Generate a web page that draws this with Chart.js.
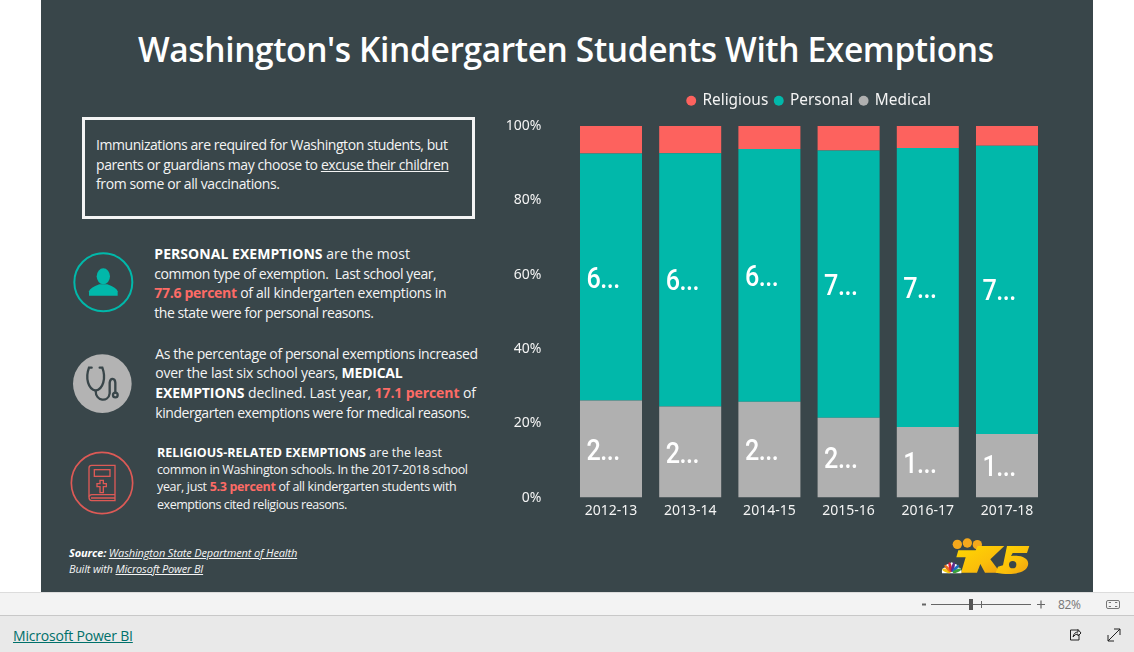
<!DOCTYPE html>
<html lang="en"><head><meta charset="utf-8"><title>Washington's Kindergarten Students With Exemptions</title>
<script src="https://cdn.jsdelivr.net/npm/chart.js@4"></script>
<style>
html,body{margin:0;padding:0;width:1134px;height:652px;overflow:hidden;background:#fff;font-family:"Open Sans",sans-serif}
#panel{position:absolute;left:41px;top:0;width:1052px;height:592px;background:#39464a}
#bar1{position:absolute;left:0;top:592px;width:1134px;height:24px;background:#f3f3f3;border-top:1px solid #dcdcdc;border-bottom:1px solid #c8c8c8;box-sizing:border-box}
#bar2{position:absolute;left:0;top:616px;width:1134px;height:36px;background:#e9e9e9}
#box{position:absolute;left:82px;top:117px;width:393px;height:102px;box-sizing:border-box;border:3px solid #f4f4f4}
canvas{position:absolute;left:500px;top:80px}
svg{position:absolute;left:0;top:0}
.l{position:absolute;white-space:nowrap;line-height:20px;height:20px;color:#f4f4f4;font-size:14px}
.l b{color:#fff;font-weight:700}.l i.r{font-style:normal;font-weight:700;color:#fd6b66}
.l u{text-underline-offset:1px}
.s{font-size:12.5px}.f{font-size:11px;font-style:italic}
#title{font-size:33.5px;font-weight:600;color:#fff;line-height:44px;height:44px}
#link{color:#00706a;font-size:14px;text-decoration:underline}
#pct{color:#777;font-size:12px}
</style></head><body>
<div id="panel"></div><div id="bar1"></div><div id="bar2"></div><div id="box"></div>

<div class="l" id="title" data-x="138" data-y="49" data-e="994">Washington's Kindergarten Students With Exemptions</div>

<div class="l" data-x="96" data-y="145" data-e="448">Immunizations are required for Washington students, but</div>
<div class="l" data-x="96" data-y="164.5" data-e="449">parents or guardians may choose to <u>excuse their children</u></div>
<div class="l" data-x="96" data-y="184" data-e="280">from some or all vaccinations.</div>

<div class="l" data-x="154.3" data-y="254" data-e="410"><b>PERSONAL EXEMPTIONS</b> are the most</div>
<div class="l" data-x="154.3" data-y="273.5" data-e="436.7">common type of exemption.&nbsp; Last school year,</div>
<div class="l" data-x="154.3" data-y="293.3" data-e="446.7"><i class="r">77.6 percent</i> of all kindergarten exemptions in</div>
<div class="l" data-x="154.3" data-y="313" data-e="374">the state were for personal reasons.</div>

<div class="l" data-x="155.3" data-y="354.3" data-e="478">As the percentage of personal exemptions increased</div>
<div class="l" data-x="155.3" data-y="373" data-e="402.7">over the last six school years, <b>MEDICAL</b></div>
<div class="l" data-x="155.3" data-y="393" data-e="476"><b>EXEMPTIONS</b> declined. Last year, <i class="r">17.1 percent</i> of</div>
<div class="l" data-x="155.3" data-y="413" data-e="470">kindergarten exemptions were for medical reasons.</div>

<div class="l s" data-x="157" data-y="452.7" data-e="442"><b>RELIGIOUS-RELATED EXEMPTIONS</b> are the least</div>
<div class="l s" data-x="157" data-y="470" data-e="468">common in Washington schools. In the 2017-2018 school</div>
<div class="l s" data-x="157" data-y="487.3" data-e="456.7">year, just <i class="r">5.3 percent</i> of all kindergarten students with</div>
<div class="l s" data-x="157" data-y="505" data-e="347.3">exemptions cited religious reasons.</div>

<div class="l f" data-x="69" data-y="552.7" data-e="297.3"><b>Source:</b> <u>Washington State Department of Health</u></div>
<div class="l f" data-x="69" data-y="569" data-e="203.3">Built with <u>Microsoft Power BI</u></div>

<div class="l" id="link" data-x="13" data-y="636" data-e="133">Microsoft Power BI</div>
<div class="l" id="pct" data-x="1058" data-y="604.5" data-e="1081">82%</div>

<svg width="1134" height="652" viewBox="0 0 1134 652">
  <!-- person -->
  <g transform="translate(60,100) scale(.3333)">
    <circle cx="130" cy="547" r="87" fill="none" stroke="#01b8aa" stroke-width="6"/>
    <ellipse cx="130" cy="529" rx="20" ry="24" fill="#01b8aa"/>
    <path d="M87 587V574Q90 563 118 553H142Q170 563 173 574V587Z" fill="#01b8aa"/>
  </g>
  <!-- stethoscope -->
  <g transform="translate(65,350) scale(.3333)">
    <circle cx="112" cy="101" r="88" fill="#b3b3b3"/>
    <g fill="none" stroke="#39464a" stroke-width="7" stroke-linecap="round">
      <path d="M80 53H72C60 85 70 118 92 122C114 118 124 85 112 53H104"/>
      <path d="M92 122C92 155 130 158 134 130V98C136 82 150 84 151 98V128"/>
      <circle cx="151" cy="135" r="7"/>
    </g>
  </g>
  <!-- book -->
  <g transform="translate(65,448) scale(.3333)" fill="none" stroke="#dd5a56" stroke-width="4">
    <circle cx="111" cy="105" r="92" stroke-width="5"/>
    <path d="M80 52H150V158H80Q72 158 72 148V60Q72 52 80 52Z"/>
    <path d="M72 146Q74 140 80 140H150M78 150H150"/>
    <rect x="88" y="65" width="47" height="20"/>
    <path d="M105 97H115V107H124V116H115V134H105V116H96V107H105Z"/>
  </g>
  <!-- station logo -->
  <g transform="translate(935,532) scale(.3333)">
    <defs><linearGradient id="gold" x1="0" y1="0" x2="1" y2="1"><stop offset="0" stop-color="#ffd800"/><stop offset=".6" stop-color="#fbbf0a"/><stop offset="1" stop-color="#f0a010"/></linearGradient></defs>
    <circle cx="67" cy="37" r="14" fill="#f5a81c"/><circle cx="97" cy="33" r="14" fill="#f5a81c"/><circle cx="127" cy="38" r="14" fill="#f5a81c"/>
    <path d="M70 55H122L128 42H208L166 82L196 122H150L136 96L126 122H78L92 76H64Z" fill="url(#gold)"/>
    <path d="M216 42H283L276 63H233L228 72C258 68 284 78 279 100C273 126 226 130 182 122L189 104L204 100Z" fill="url(#gold)"/>
    <circle cx="233" cy="98" r="11" fill="#39464a"/>
    <path d="M21 124Q18 106 33 106Q31 94 44 96Q50 86 56 96Q69 94 67 106Q82 106 79 124Z" fill="#fff"/>
    <g transform="translate(50,123)">
      <ellipse cx="0" cy="-17" rx="4.5" ry="13" transform="rotate(-68)" fill="#f2c80f"/>
      <ellipse cx="0" cy="-18" rx="4.5" ry="14" transform="rotate(-41)" fill="#e8701a"/>
      <ellipse cx="0" cy="-18" rx="4.5" ry="15" transform="rotate(-13)" fill="#d8213b"/>
      <ellipse cx="0" cy="-18" rx="4.5" ry="15" transform="rotate(13)" fill="#5b2d8e"/>
      <ellipse cx="0" cy="-18" rx="4.5" ry="14" transform="rotate(41)" fill="#1d6fc0"/>
      <ellipse cx="0" cy="-17" rx="4.5" ry="13" transform="rotate(68)" fill="#3ca23c"/>
    </g>
  </g>
  <!-- zoom controls -->
  <g stroke="#666" fill="none">
    <path d="M922 604.5H926" stroke-width="2"/>
    <path d="M931 604.5H1031"/>
    <rect x="969" y="599" width="4" height="11" fill="#555" stroke="none"/>
    <path d="M981.5 601V608"/>
    <path d="M1037 604.5H1045M1041 600.5V608.5" stroke-width="1.2"/>
    <rect x="1106.5" y="600.5" width="13" height="8" rx="1.5" stroke="#777"/>
    <path d="M1109 603V602.5H1111M1115 602.5H1117V603M1117 606V606.5H1115M1111 606.5H1109V606" stroke="#777"/>
  </g>
  <g stroke="#222" fill="none">
    <path d="M1078 630H1070.5V640H1079V635"/>
    <path d="M1073 637Q1074 632 1078 632V629.5L1081 633L1078 636V634Q1075 634 1073 637Z"/>
    <path d="M1108 641L1120 629M1114 629H1120V635M1108 635V641H1114"/>
  </g>
</svg>

<canvas id="c" width="618" height="456"></canvas>
<script>
const categories = ["2012-13","2013-14","2014-15","2015-16","2016-17","2017-18"];
const medical   = [26.1,24.5,25.8,21.5,19.0,17.1];
const personal  = [66.5,68.2,68.0,71.9,75.1,77.6];
const religious = [7.4,7.3,6.2,6.6,5.9,5.3];
const seriesNames = ["Medical","Personal","Religious"];
const seriesColors = ["#b0b0b0","#01b8aa","#fd625e"];

// fit text lines to their measured extents
document.querySelectorAll('.l[data-x]').forEach(el=>{
  const x=+el.dataset.x,y=+el.dataset.y,e=+el.dataset.e;
  el.style.left=x+'px';
  el.style.top=(y-parseFloat(getComputedStyle(el).height)/2)+'px';
  const w=el.getBoundingClientRect().width;
  const n=el.textContent.length;
  if(n>1) el.style.letterSpacing=((e-x-w)/(n-1))+'px';
});

const truncatedLabels={
  id:'truncatedLabels',
  afterDatasetsDraw(chart){
    const ctx=chart.ctx;
    ctx.save();
    ctx.fillStyle='#fff';
    ctx.font='500 30px Roboto,sans-serif';
    ctx.textBaseline='middle';ctx.textAlign='left';
    ctx.letterSpacing='-0.6px';
    [0,1].forEach(i=>{
      chart.getDatasetMeta(i).data.forEach((b,j)=>{
        const v=chart.data.datasets[i].data[j];
        ctx.save();
        ctx.translate(b.x-24.5,(b.y+b.base)/2+3);
        ctx.scale(0.84,1);
        ctx.fillText(String(v)[0]+'...',0,0);
        ctx.restore();
      });
    });
    ctx.restore();
  }
};
const legendSpacing={
  id:'legendSpacing',
  beforeInit(chart){
    const lg=chart.legend,fit=lg.fit;
    lg.fit=function(){fit.call(this);this.height=40;};
  },
  afterLayout(chart){
    chart.legend.left+=36;chart.legend.right+=36;
  }
};
const tickFont={family:'"Noto Sans"',size:14};
new Chart(document.getElementById('c'),{
  type:'bar',
  data:{labels:categories,datasets:[medical,personal,religious].map((d,i)=>({
    label:seriesNames[i],data:d,backgroundColor:seriesColors[i],borderWidth:0,
    categoryPercentage:1,barPercentage:0.783}))},
  options:{
    responsive:false,animation:false,devicePixelRatio:1,
    layout:{padding:{top:6,right:71.4,left:0,bottom:0}},
    plugins:{
      tooltip:{enabled:false},
      legend:{position:'top',reverse:true,labels:{usePointStyle:true,pointStyle:'circle',boxHeight:7,boxWidth:7,padding:7,color:'#f4f4f4',font:{family:'"Noto Sans"',size:15.4}}}
    },
    scales:{
      x:{stacked:true,grid:{display:false,drawTicks:false},border:{display:false},
         ticks:{color:'#f4f4f4',font:tickFont,padding:5,maxRotation:0},
         afterFit(s){s.height=33;}},
      y:{stacked:true,min:0,max:100,grid:{display:false,drawTicks:false},border:{display:false},
         ticks:{stepSize:20,color:'#f4f4f4',font:tickFont,padding:30,callback:v=>v+'%'},
         afterFit(s){s.width=71.4;}}
    }
  },
  plugins:[truncatedLabels,legendSpacing]
});
</script>
</body></html>
